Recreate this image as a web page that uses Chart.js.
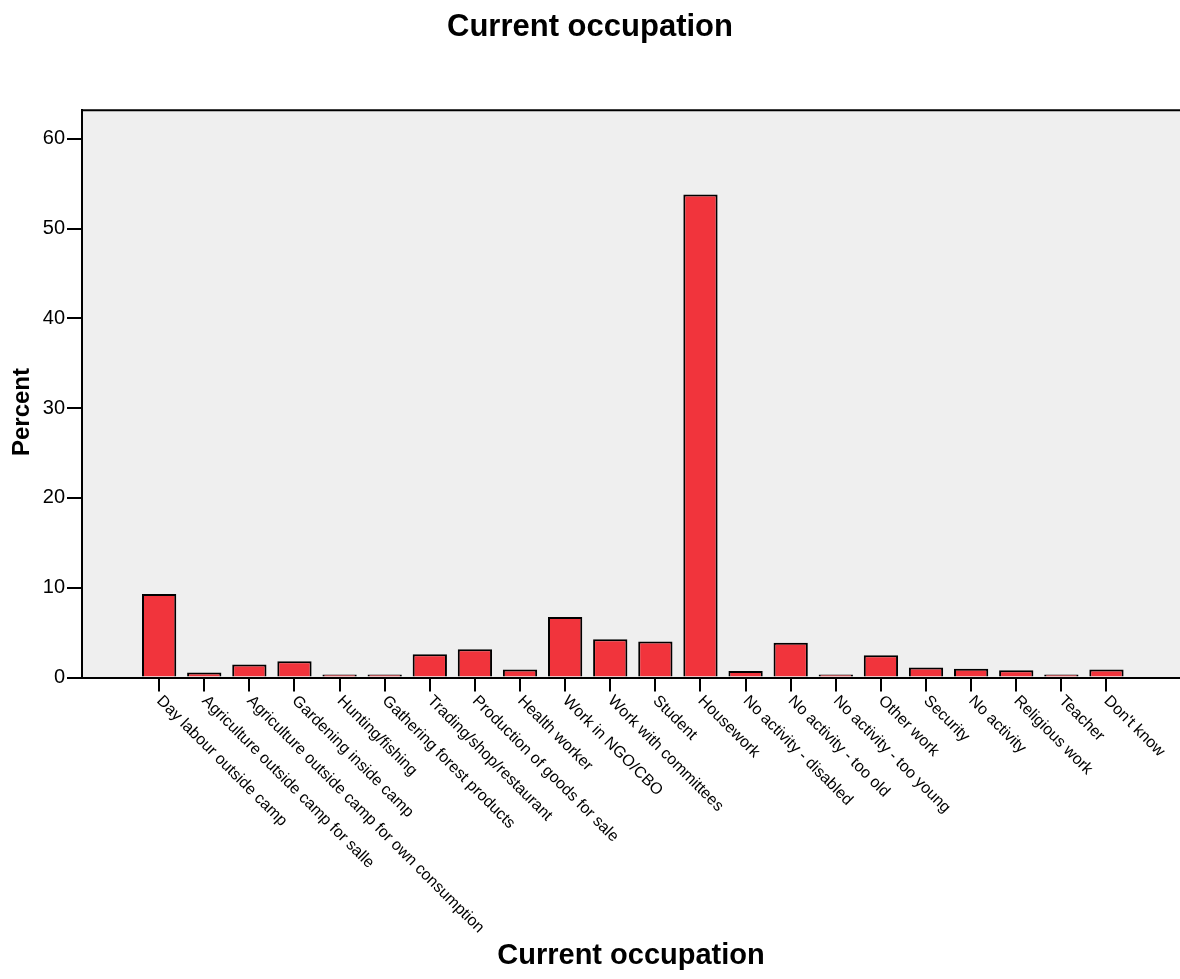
<!DOCTYPE html>
<html>
<head>
<meta charset="utf-8">
<script src="https://cdn.jsdelivr.net/npm/chart.js@4/dist/chart.umd.min.js"></script>
<style>
  html, body { margin: 0; padding: 0; background: #fff; }
</style>
</head>
<body>
<canvas id="myChart" width="1180" height="979"></canvas>
<script>
// Occupation categories (x axis) and percent of respondents
const categories = [
    'Day labour outside camp',
    'Agriculture outside camp for salle',
    'Agriculture outside camp for own consumption',
    'Gardening inside camp',
    'Hunting/fishing',
    'Gathering forest products',
    'Trading/shop/restaurant',
    'Production of goods for sale',
    'Health worker',
    'Work in NGO/CBO',
    'Work with committees',
    'Student',
    'Housework',
    'No activity - disabled',
    'No activity - too old',
    'No activity - too young',
    'Other work',
    'Security',
    'No activity',
    'Religious work',
    'Teacher',
    "Don't know"
];
const percents = [9.3, 0.55, 1.45, 1.8, 0.12, 0.3, 2.6, 3.15, 0.9, 6.75, 4.25, 4.0, 53.8,
                  0.72, 3.88, 0.22, 2.48, 1.12, 0.97, 0.82, 0.3, 0.9];
const yTicks = [0, 10, 20, 30, 40, 50, 60];

Chart.defaults.font.family = '"Liberation Sans", Arial, sans-serif';
Chart.defaults.color = '#000';

// grey plot background with a top frame line
const plotBackground = {
    id: 'plotBackground',
    beforeDraw(chart) {
        const { ctx, chartArea: a } = chart;
        ctx.save();
        ctx.fillStyle = '#efefef';
        ctx.fillRect(a.left, a.top, a.right - a.left, a.bottom - a.top);
        ctx.strokeStyle = '#000';
        ctx.lineWidth = 2;
        ctx.beginPath();
        ctx.moveTo(a.left, a.top);
        ctx.lineTo(a.right, a.top);
        ctx.stroke();
        ctx.restore();
    }
};

// slanted category labels and y axis title
const slantedLabels = {
    id: 'slantedLabels',
    afterDraw(chart) {
        const { ctx, chartArea: a } = chart;
        const xs = chart.scales.x;
        ctx.save();
        ctx.fillStyle = '#000';
        ctx.font = '16px "Liberation Sans", Arial, sans-serif';
        ctx.textAlign = 'left';
        ctx.textBaseline = 'middle';
        categories.forEach((label, i) => {
            const x = xs.getPixelForValue(i);
            ctx.save();
            ctx.translate(x, a.bottom + 21);
            ctx.rotate(Math.PI / 4);
            ctx.fillText(label, 0, 0);
            ctx.restore();
        });

        ctx.font = 'bold 24px "Liberation Sans", Arial, sans-serif';
        ctx.textAlign = 'center';
        ctx.translate(22, 412);
        ctx.rotate(-Math.PI / 2);
        ctx.fillText('Percent', 0, 0);
        ctx.restore();
    }
};

const ctx = document.getElementById('myChart').getContext('2d');
new Chart(ctx, {
    type: 'bar',
    data: {
        datasets: [{
            label: 'Percent',
            data: percents.map((v, i) => ({ x: i, y: v })),
            backgroundColor: '#f1343c',
            borderColor: '#000',
            borderWidth: 2,
            minBarLength: 3,
            barPercentage: 0.76,
            categoryPercentage: 1
        }]
    },
    options: {
        responsive: false,
        animation: false,
        layout: { padding: 0 },
        plugins: {
            legend: { display: false },
            tooltip: { enabled: false },
            title: {
                display: true,
                text: 'Current occupation',
                font: { size: 31, weight: 'bold' },
                padding: { top: 9, bottom: 64 }
            }
        },
        scales: {
            x: {
                type: 'linear',
                offset: false,
                min: -1.71,
                max: 22.63,
                afterBuildTicks: scale => {
                    scale.ticks = categories.map((c, i) => ({ value: i }));
                },
                afterFit: scale => { scale.height = 301.5; },
                ticks: { display: false },
                grid: {
                    offset: false,
                    drawOnChartArea: false,
                    drawTicks: true,
                    tickLength: 14,
                    color: '#000',
                    lineWidth: 2
                },
                border: { display: true, color: '#000', width: 2 },
                title: {
                    display: true,
                    text: 'Current occupation',
                    font: { size: 29, weight: 'bold' },
                    padding: { top: 0, bottom: 6 }
                }
            },
            y: {
                min: 0,
                max: 63.2,
                afterBuildTicks: scale => {
                    scale.ticks = yTicks.map(v => ({ value: v }));
                },
                afterFit: scale => { scale.width = 82; },
                ticks: {
                    font: { size: 20 },
                    padding: 2,
                    color: '#000'
                },
                grid: {
                    drawOnChartArea: false,
                    drawTicks: true,
                    tickLength: 15,
                    color: '#000',
                    lineWidth: 2
                },
                border: { display: true, color: '#000', width: 2 }
            }
        }
    },
    plugins: [plotBackground, slantedLabels]
});
</script>
</body>
</html>
